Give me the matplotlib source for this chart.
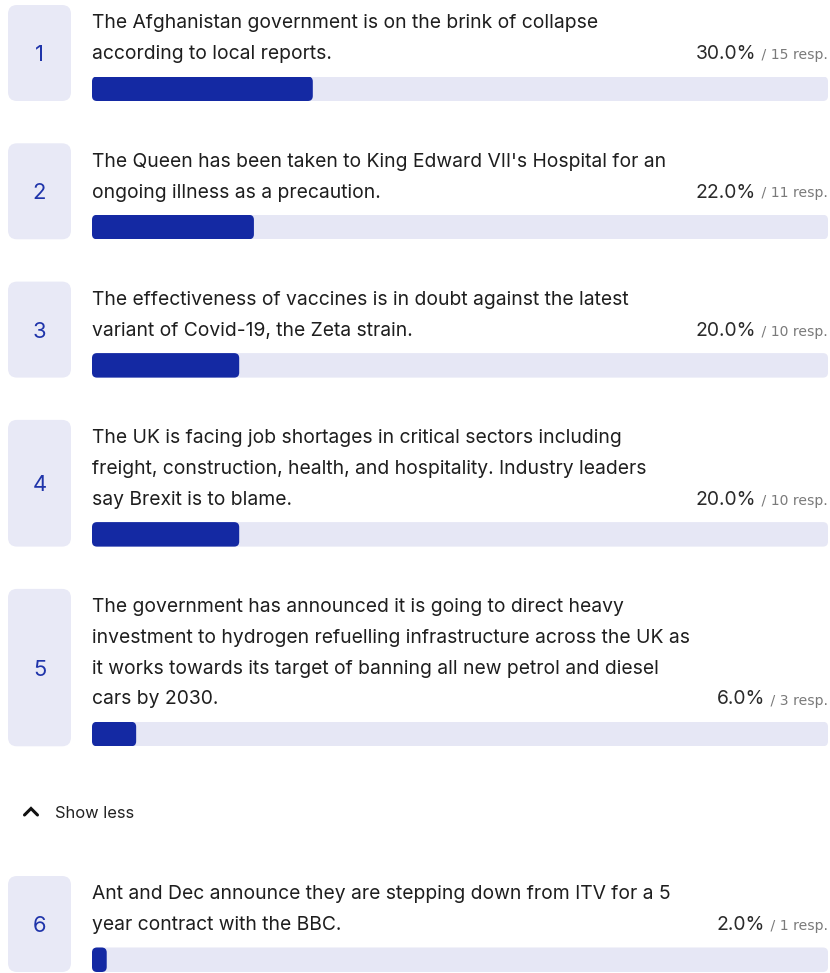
import matplotlib.pyplot as plt
from matplotlib.patches import FancyBboxPatch

plt.rcParams['font.family'] = ['Inter', 'DejaVu Sans']

# Poll results: one entry per headline
questions = [
    "The Afghanistan government is on the brink of collapse\naccording to local reports.",
    "The Queen has been taken to King Edward VII's Hospital for an\nongoing illness as a precaution.",
    "The effectiveness of vaccines is in doubt against the latest\nvariant of Covid-19, the Zeta strain.",
    "The UK is facing job shortages in critical sectors including\nfreight, construction, health, and hospitality. Industry leaders\nsay Brexit is to blame.",
    "The government has announced it is going to direct heavy\ninvestment to hydrogen refuelling infrastructure across the UK as\nit works towards its target of banning all new petrol and diesel\ncars by 2030.",
    "Ant and Dec announce they are stepping down from ITV for a 5\nyear contract with the BBC.",
]
percents = [30.0, 22.0, 20.0, 20.0, 6.0, 2.0]
responses = [15, 11, 10, 10, 3, 1]
toggle_label = "Show less"
toggle_after = 5  # the toggle sits after the fifth item

W, H = 830, 973
fig = plt.figure(figsize=(W / 100, H / 100), dpi=100)
ax = fig.add_axes([0, 0, 1, 1])
ax.set_xlim(0, W)
ax.set_ylim(H, 0)
ax.axis('off')

PX = 72 / 100  # points per pixel
box_fill = '#E8E9F6'
track_col = '#E6E7F5'
bar_col = '#1429A3'
num_col = '#1F34AA'
text_col = '#1e1e1e'

text_x = 92
track_x0, track_x1 = 92, 828
line_h = 30.7
bar_h = 24.5
gap = 42.3
renderer = fig.canvas.get_renderer()

top = 5
for i, (q, pct, n) in enumerate(zip(questions, percents, responses)):
    if i == toggle_after:
        # collapse toggle
        ax.plot([24.5, 31, 37.5], [815, 808.5, 815], color='#111111', lw=2.2,
                solid_capstyle='round', solid_joinstyle='miter')
        ax.text(55, 818.5, toggle_label, fontsize=16.5 * PX, color='#222222',
                va='baseline', ha='left')
        top += 129.7 - gap

    lines = q.split('\n')
    box_h = 96 + (len(lines) - 2) * line_h
    bottom = top + box_h
    for k, line in enumerate(lines):
        ax.text(text_x, top + 23.5 + k * line_h, line, fontsize=19.3 * PX,
                color=text_col, va='baseline', ha='left')
    last = top + 23.5 + (len(lines) - 1) * line_h

    # percentage and response count on the last line
    resp = ax.text(track_x1, last, f" / {n} resp.", fontsize=14 * PX,
                   color='#7a7a7a', va='baseline', ha='right',
                   family='DejaVu Sans')
    bb = resp.get_window_extent(renderer)
    x_pct = ax.transData.inverted().transform((bb.x0, 0))[0]
    ax.text(x_pct - 1, last, f"{pct:.1f}%", fontsize=19.3 * PX,
            color='#2a2a2a', va='baseline', ha='right')

    # number tile
    ax.add_patch(FancyBboxPatch((8, top), 63, box_h,
                                boxstyle='round,pad=0,rounding_size=9',
                                fc=box_fill, ec='none'))
    ax.text(39.5, top + box_h / 2 + 2, str(i + 1), fontsize=22 * PX,
            color=num_col, va='center', ha='center')

    # progress bar in its own 0-100 axes
    bw = track_x1 - track_x0
    bax = fig.add_axes([track_x0 / W, 1 - bottom / H, bw / W, bar_h / H])
    bax.set_xlim(0, 100)
    bax.set_ylim(0, 1)
    bax.axis('off')
    r = 5 * 100 / bw
    asp = (1 / bar_h) / (100 / bw)
    bax.add_patch(FancyBboxPatch((0, 0), 100, 1,
                                 boxstyle=f'round,pad=0,rounding_size={r}',
                                 mutation_aspect=asp, fc=track_col, ec='none'))
    bax.add_patch(FancyBboxPatch((0, 0), pct, 1,
                                 boxstyle=f'round,pad=0,rounding_size={r}',
                                 mutation_aspect=asp, fc=bar_col, ec='none'))

    top = bottom + gap

fig.savefig('out.png', dpi=100, facecolor='white')
